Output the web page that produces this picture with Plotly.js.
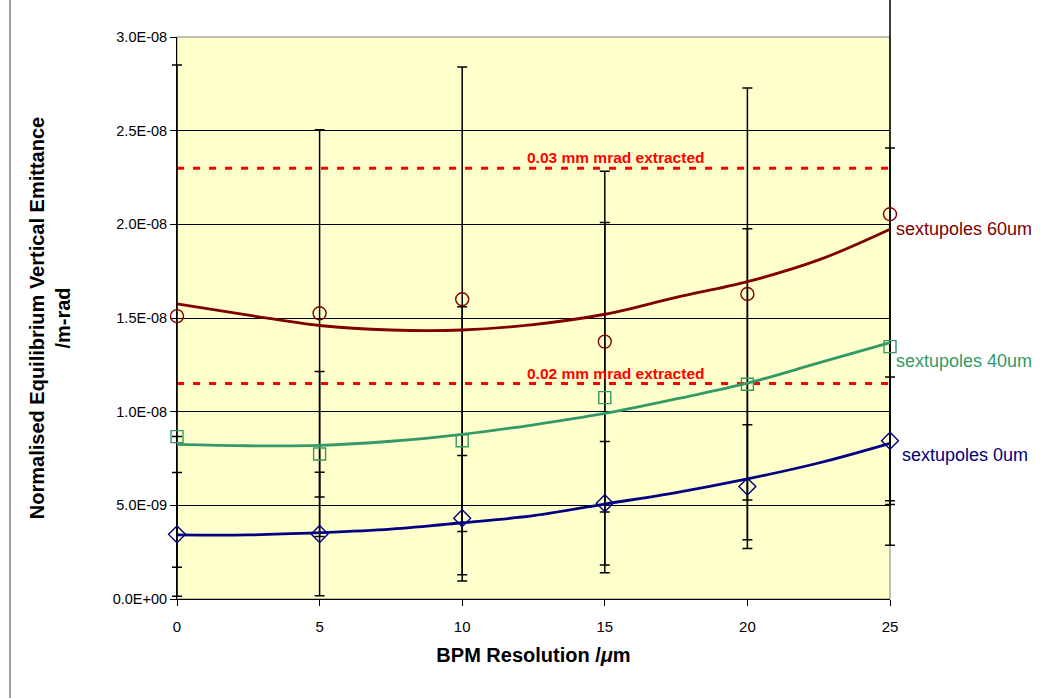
<!DOCTYPE html>
<html>
<head>
<meta charset="utf-8">
<script src="https://cdn.plot.ly/plotly-3.0.1.min.js"></script>
<style>html,body{margin:0;padding:0;background:#fff;}#chart{width:1040px;height:698px;}</style>
</head>
<body>
<div id="chart"></div>
<script>
// BPM resolution (um) at which the measured points sit
const bpmRes = [0, 5, 10, 15, 20, 25];

// Measured emittance (m-rad) and error bar half-widths
const sext60 = [15.1e-9, 15.25e-9, 16.0e-9, 13.74e-9, 16.28e-9, 20.54e-9];
const sext60Err = [13.4e-9, 9.8e-9, 12.4e-9, 9.1e-9, 11.0e-9, 15.3e-9];
const sext40 = [8.67e-9, 7.74e-9, 8.45e-9, 10.75e-9, 11.46e-9, 13.47e-9];
const sext40Err = [0, 4.4e-9, 7.15e-9, 9.35e-9, 8.3e-9, 10.6e-9];
const sext0 = [3.45e-9, 3.47e-9, 4.31e-9, 5.11e-9, 6.0e-9, 8.45e-9];
const sext0Err = [3.3e-9, 3.3e-9, 3.35e-9, 3.3e-9, 3.3e-9, 3.4e-9];

// Fitted curves
const fitX = [0, 2.5, 5, 7.5, 10, 12.5, 15, 17.5, 20, 22.5, 25];
const fit60 = [15.75e-9, 15.15e-9, 14.6e-9, 14.36e-9, 14.36e-9, 14.65e-9, 15.2e-9, 16.1e-9, 16.94e-9, 18.1e-9, 19.74e-9];
const fit40 = [8.25e-9, 8.18e-9, 8.2e-9, 8.42e-9, 8.79e-9, 9.3e-9, 9.91e-9, 10.68e-9, 11.52e-9, 12.6e-9, 13.69e-9];
const fit0 = [3.42e-9, 3.42e-9, 3.54e-9, 3.73e-9, 4.07e-9, 4.45e-9, 5.07e-9, 5.68e-9, 6.41e-9, 7.26e-9, 8.31e-9];

// Extraction limits
const limitX = [0, 25];
const limit03 = [2.3e-8, 2.3e-8];
const limit02 = [1.15e-8, 1.15e-8];
const limitLabels = ["0.03 mm mrad extracted", "0.02 mm mrad extracted"];

// Series labels
const seriesNames = ["sextupoles 60um", "sextupoles 40um", "sextupoles 0um"];

// Axis ticks
const xRange = [0, 25];
const yRange = [0, 3e-8];
const yTickVals = [0, 5e-9, 1e-8, 1.5e-8, 2e-8, 2.5e-8, 3e-8];
const yTickText = ["0.0E+00", "5.0E-09", "1.0E-08", "1.5E-08", "2.0E-08", "2.5E-08", "3.0E-08"];
const xTickVals = [0, 5, 10, 15, 20, 25];

const cRed = '#800000', cGreen = '#339966', cNavy = '#000080';
const FONT = 'Arial, "Liberation Sans", sans-serif';

// ---- geometry (pixels) ----
const W = 1040, H = 698;
const M = {l: 150, r: 120, t: 0, b: 99};        // outer drawing area
const plotL = 177, plotR = 890, plotT = 37, plotB = 599; // visible plot area
const pw = W - M.l - M.r, ph = H - M.t - M.b;
// main axes domains inside the drawing area
const xDom = [(plotL - M.l) / pw, (plotR - M.l) / pw];
const yDom = [(H - M.b - plotB) / ph, (H - M.b - plotT) / ph];
// an unclipped overlay subplot spanning the whole drawing area, aligned with the main axes
const uxPerPx = (xRange[1] - xRange[0]) / (plotR - plotL);
const uyPerPx = (yRange[1] - yRange[0]) / (plotB - plotT);
const x2Range = [xRange[0] - (plotL - M.l) * uxPerPx, xRange[1] + (W - M.r - plotR) * uxPerPx];
const y2Range = [yRange[0] - (H - M.b - plotB) * uyPerPx, yRange[1] + (plotT - M.t) * uyPerPx];

function errTrace(y, err) {
  return {type: 'scatter', mode: 'markers', x: bpmRes, y: y, xaxis: 'x2', yaxis: 'y2', cliponaxis: false,
    marker: {color: 'rgba(0,0,0,0)', size: 1},
    error_y: {type: 'data', array: err, visible: true, color: '#000000', thickness: 1.5, width: 5},
    hoverinfo: 'skip', showlegend: false};
}
function fitTrace(y, color) {
  return {type: 'scatter', mode: 'lines', x: fitX, y: y, xaxis: 'x2', yaxis: 'y2', line: {color: color, width: 2.8, shape: 'spline'}, showlegend: false};
}
function markTrace(y, color, symbol, size, name) {
  return {type: 'scatter', mode: 'markers', x: bpmRes, y: y, name: name, xaxis: 'x2', yaxis: 'y2', cliponaxis: false,
    marker: {symbol: symbol, size: size, color: color, line: {color: color, width: 1.4}}, showlegend: false};
}
function limitTrace(y) {
  return {type: 'scatter', mode: 'lines', x: limitX, y: y, xaxis: 'x2', yaxis: 'y2', line: {color: '#FF0000', width: 3, dash: '7px,9px'}, showlegend: false};
}

const data = [
  limitTrace(limit03), limitTrace(limit02),
  errTrace(sext60, sext60Err), errTrace(sext40, sext40Err), errTrace(sext0, sext0Err),
  fitTrace(fit60, cRed), fitTrace(fit40, cGreen), fitTrace(fit0, cNavy),
  markTrace(sext60, cRed, 'circle-open', 13, seriesNames[0]),
  markTrace(sext40, cGreen, 'square-open', 12, seriesNames[1]),
  markTrace(sext0, cNavy, 'diamond-open', 13, seriesNames[2])
];

const layout = {
  width: W, height: H,
  margin: M,
  paper_bgcolor: '#ffffff', plot_bgcolor: 'rgba(0,0,0,0)',
  font: {family: FONT, color: '#000000', size: 14},
  showlegend: false,
  xaxis: {domain: xDom, range: xRange, tickvals: xTickVals, ticks: 'outside', ticklen: 6, tickcolor: '#000',
    showgrid: false, zeroline: false, showline: true, linecolor: '#000', linewidth: 1,
    tickfont: {family: FONT, size: 15}, ticklabelstandoff: 8,
    title: {text: 'BPM Resolution /<i>μ</i>m', font: {family: FONT, size: 20, weight: 'bold'}, standoff: 13}},
  yaxis: {domain: yDom, range: yRange, tickvals: yTickVals, ticktext: yTickText, ticks: 'outside', ticklen: 6, tickcolor: '#000',
    showgrid: true, gridcolor: '#000000', gridwidth: 1, zeroline: false, showline: true, linecolor: '#000', linewidth: 1,
    tickfont: {family: FONT, size: 14.5},
    title: {text: 'Normalised Equilibrium Vertical Emittance<br>/m-rad', font: {family: FONT, size: 20, weight: 'bold'}, standoff: 36}},
  xaxis2: {domain: [0, 1], range: x2Range, visible: false, showgrid: false, zeroline: false, anchor: 'y2', fixedrange: true},
  yaxis2: {domain: [0, 1], range: y2Range, visible: false, showgrid: false, zeroline: false, anchor: 'x2', fixedrange: true},
  shapes: [
    {type: 'rect', xref: 'x domain', yref: 'y domain', x0: 0, x1: 1, y0: 0, y1: 1, fillcolor: '#FFFFCC', line: {color: '#808080', width: 1}, layer: 'below'},
    {type: 'line', xref: 'paper', yref: 'paper', x0: (10 - M.l) / pw, x1: (10 - M.l) / pw, y0: -0.2, y1: 1.1, line: {color: '#404040', width: 1}}
  ],
  annotations: [
    {x: 15.36, y: limit03[0], xref: 'x', yref: 'y', text: '<b>' + limitLabels[0] + '</b>', showarrow: false, yanchor: 'bottom', yshift: 0, font: {family: FONT, size: 15.5, color: '#FF0000'}},
    {x: 15.36, y: limit02[0], xref: 'x', yref: 'y', text: '<b>' + limitLabels[1] + '</b>', showarrow: false, yanchor: 'bottom', yshift: 0, font: {family: FONT, size: 15.5, color: '#FF0000'}},
    {x: 25, xref: 'x', y: 19.75e-9, yref: 'y', text: seriesNames[0], showarrow: false, xanchor: 'left', xshift: 4, font: {family: FONT, size: 18, color: cRed}},
    {x: 25, xref: 'x', y: 12.7e-9, yref: 'y', text: seriesNames[1], showarrow: false, xanchor: 'left', xshift: 4, font: {family: FONT, size: 18, color: cGreen}},
    {x: 25, xref: 'x', y: 7.69e-9, yref: 'y', text: seriesNames[2], showarrow: false, xanchor: 'left', xshift: 10, font: {family: FONT, size: 18, color: cNavy}}
  ]
};

Plotly.newPlot('chart', data, layout, {displayModeBar: false, staticPlot: true});
</script>
</body>
</html>
